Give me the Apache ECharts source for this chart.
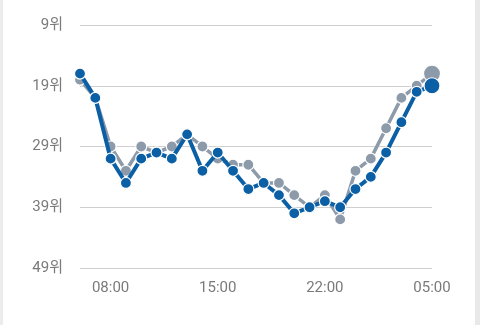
<!DOCTYPE html>
<html>
<head>
<meta charset="utf-8">
<script src="https://cdn.jsdelivr.net/npm/echarts@6/dist/echarts.min.js"></script>
<style>
html,body{margin:0;padding:0;background:#fff;}
#c{width:480px;height:325px;}
</style>
</head>
<body>
<div id="c"></div>
<script>
const hours = ["06:00","07:00","08:00","09:00","10:00","11:00","12:00","13:00","14:00","15:00","16:00","17:00",
               "18:00","19:00","20:00","21:00","22:00","23:00","00:00","01:00","02:00","03:00","04:00","05:00"];
const blueRanks = [17,21,31,35,31,30,31,27,33,30,33,36,35,37,40,39,38,39,36,34,30,25,20,19];
const grayRanks = [18,21,29,33,29,30,29,27,29,31,32,32,35,35,37,39,37,41,33,31,26,21,19,17];
const yTicks = [9,19,29,39,49];
const labelIdx = [2,9,16,23];

const BLUE = '#0b5fa5', GRAY = '#8d9aa9';
function pts(arr, lastSize){
  return arr.map((v,i)=> i===arr.length-1 ? {value:v, symbolSize: lastSize} : v);
}
const chart = echarts.init(document.getElementById('c'));
chart.setOption({
  animation:false,
  graphic:[
    {type:'rect', shape:{x:0,y:0,width:3,height:325}, style:{fill:'#ececec'}},
    {type:'rect', shape:{x:475,y:0,width:5,height:325}, style:{fill:'#e9e9e9'}}
  ],
  grid:{left:80,right:48,top:25,bottom:57},
  xAxis:{
    type:'category', data:hours, boundaryGap:false,
    axisLine:{show:false}, axisTick:{show:false},
    axisLabel:{interval:(i)=>labelIdx.indexOf(i)>=0, color:'#7a7a7a', fontSize:15, fontFamily:'Roboto, "Noto Sans CJK KR"', margin:13}
  },
  yAxis:{
    type:'value', inverse:true, min:yTicks[0], max:yTicks[yTicks.length-1], interval:10,
    axisLine:{show:false}, axisTick:{show:false},
    axisLabel:{formatter:'{value}위', color:'#7a7a7a', fontSize:15, fontFamily:'Roboto, "Noto Sans CJK KR"', margin:17},
    splitLine:{lineStyle:{color:'#cfcfcf', width:1}}
  },
  series:[
    {type:'line', data:pts(grayRanks,17), symbol:'circle', symbolSize:11, showSymbol:true, showAllSymbol:true, z:2,
     lineStyle:{color:GRAY, width:3.5}, itemStyle:{color:GRAY, borderColor:'#fff', borderWidth:1.2}},
    {type:'line', data:pts(blueRanks,16), symbol:'circle', symbolSize:11, showSymbol:true, showAllSymbol:true, z:3,
     lineStyle:{color:BLUE, width:4}, itemStyle:{color:BLUE, borderColor:'#fff', borderWidth:1.2}}
  ]
});
</script>
</body>
</html>
